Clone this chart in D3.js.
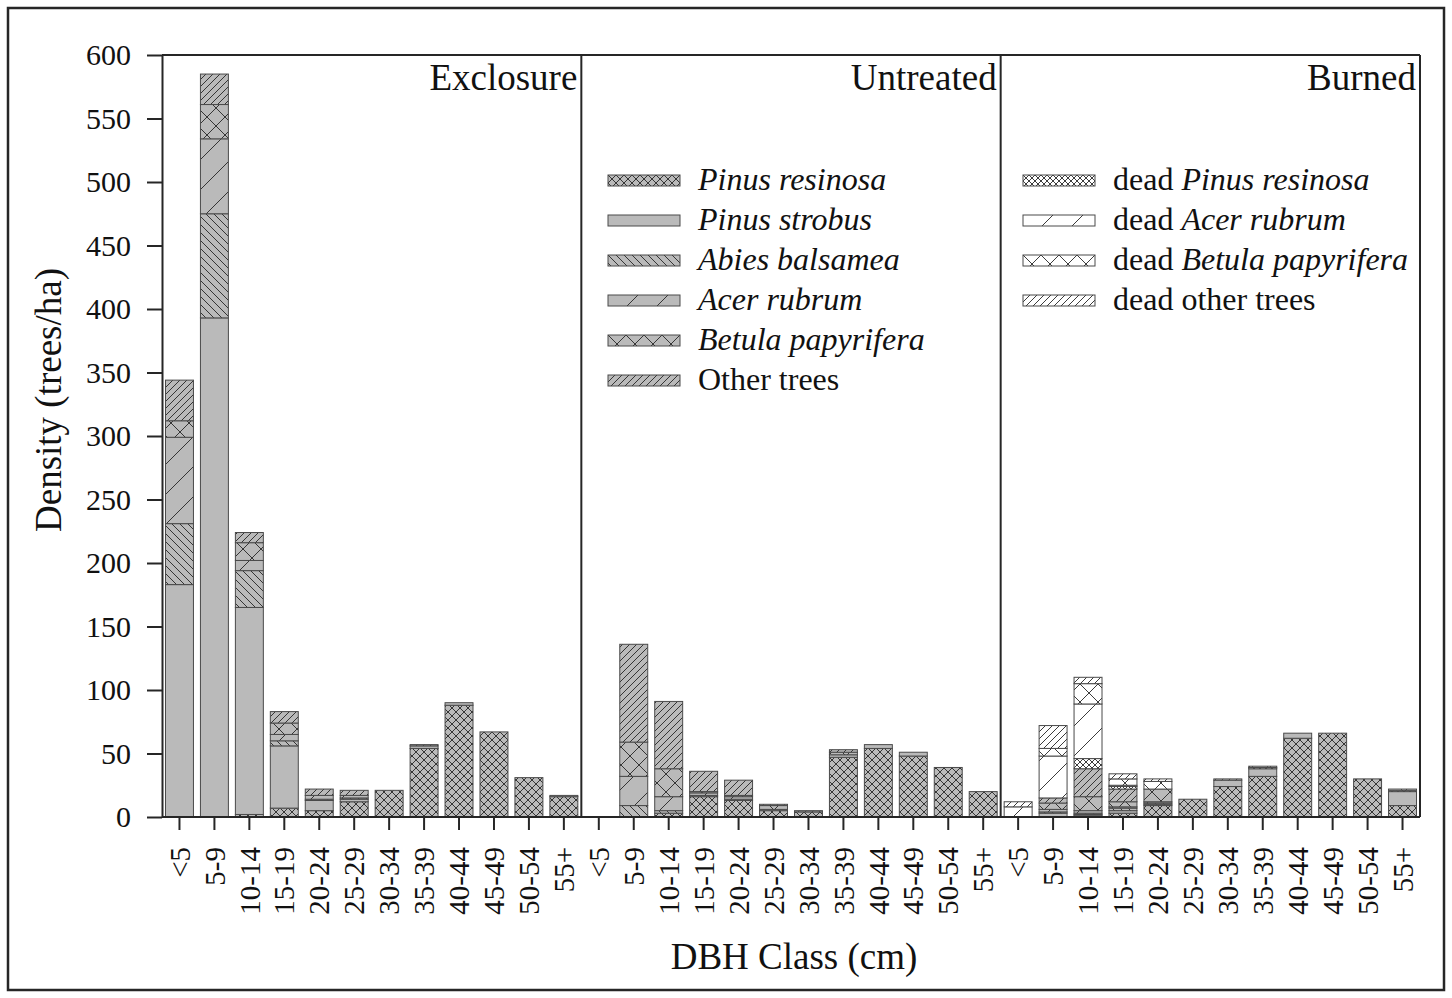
<!DOCTYPE html>
<html>
  <head>
    <meta charset="utf-8">
    <title>Tree density by DBH class</title>
    <script src="https://cdn.jsdelivr.net/npm/d3@7"></script>
    <style>
      body { margin: 0; background: #fff; }
      svg text { font-family: "Liberation Serif", "Times New Roman", serif; fill: #111; }
    </style>
  </head>

  <body>
    <svg id="chart" width="1452" height="998"></svg>

    <script>
      // categories
      classes = ["<5", "5-9", "10-14", "15-19", "20-24", "25-29", "30-34", "35-39", "40-44", "45-49", "50-54", "55+"];
      treatments = ["Exclosure", "Untreated", "Burned"];
      yTicks = [0, 50, 100, 150, 200, 250, 300, 350, 400, 450, 500, 550, 600];

      // stack order, bottom to top
      keys = ["res", "strobus", "abies", "acer", "betula", "other", "deadRes", "deadAcer", "deadBetula", "deadOther"];
      liveLabels = ["Pinus resinosa", "Pinus strobus", "Abies balsamea", "Acer rubrum", "Betula papyrifera", "Other trees"];
      deadLabels = ["Pinus resinosa", "Acer rubrum", "Betula papyrifera", "other trees"];

      // Exclosure (trees/ha)
      exclosureRes     = [0, 0, 2, 7, 5, 12, 21, 54, 88, 67, 31, 16];
      exclosureStrobus = [183, 393, 163, 49, 8, 2, 0, 2, 2, 0, 0, 1];
      exclosureAbies   = [48, 82, 29, 4, 1, 1, 0, 0, 0, 0, 0, 0];
      exclosureAcer    = [68, 59, 8, 5, 3, 2, 0, 0, 0, 0, 0, 0];
      exclosureBetula  = [13, 27, 14, 9, 0, 0, 0, 0, 0, 0, 0, 0];
      exclosureOther   = [32, 24, 8, 9, 5, 4, 0, 1, 0, 0, 0, 0];

      // Untreated
      untreatedRes     = [0, 0, 3, 16, 13, 5, 4, 47, 54, 48, 39, 20];
      untreatedStrobus = [0, 0, 0, 0, 0, 0, 0, 2, 3, 3, 0, 0];
      untreatedAbies   = [0, 9, 2, 1, 1, 0, 0, 0, 0, 0, 0, 0];
      untreatedAcer    = [0, 23, 11, 2, 2, 1, 0, 0, 0, 0, 0, 0];
      untreatedBetula  = [0, 27, 22, 1, 1, 3, 0, 2, 0, 0, 0, 0];
      untreatedOther   = [0, 77, 53, 16, 12, 1, 1, 2, 0, 0, 0, 0];

      // Burned, living
      burnedRes     = [0, 0, 1, 3, 9, 14, 24, 32, 62, 66, 30, 9];
      burnedStrobus = [0, 3, 1, 2, 1, 0, 5, 6, 4, 0, 0, 11];
      burnedAbies   = [0, 1, 1, 2, 1, 0, 0, 0, 0, 0, 0, 0];
      burnedAcer    = [0, 2, 2, 1, 1, 0, 0, 0, 0, 0, 0, 0];
      burnedBetula  = [0, 5, 11, 4, 10, 0, 0, 0, 0, 0, 0, 0];
      burnedOther   = [0, 4, 22, 10, 0, 0, 0, 0, 0, 0, 0, 0];
      // Burned, dead
      burnedDeadRes    = [0, 0, 8, 2, 0, 0, 0, 1, 0, 0, 0, 1];
      burnedDeadAcer   = [8, 33, 43, 1, 0, 0, 0, 0, 0, 0, 0, 0];
      burnedDeadBetula = [0, 6, 16, 5, 6, 0, 0, 1, 0, 0, 0, 1];
      burnedDeadOther  = [4, 18, 5, 4, 2, 0, 1, 0, 0, 0, 0, 0];

      zeros = classes.map(function() { return 0; });
      series = {
        Exclosure: [exclosureRes, exclosureStrobus, exclosureAbies, exclosureAcer, exclosureBetula, exclosureOther, zeros, zeros, zeros, zeros],
        Untreated: [untreatedRes, untreatedStrobus, untreatedAbies, untreatedAcer, untreatedBetula, untreatedOther, zeros, zeros, zeros, zeros],
        Burned: [burnedRes, burnedStrobus, burnedAbies, burnedAcer, burnedBetula, burnedOther, burnedDeadRes, burnedDeadAcer, burnedDeadBetula, burnedDeadOther]
      };

      // page elements
      chart = d3.select("#chart");
      grey = "#bababa";
      ink = "#262626";
      margin = { top: 55, right: 1420, bottom: 817, left: 162 };

      // patterns
      defs = chart.append("defs");
      function makePattern(id, size, bg, d) {
        p = defs.append("pattern")
          .attr("id", id)
          .attr("patternUnits", "userSpaceOnUse")
          .attr("width", size)
          .attr("height", size);
        p.append("rect")
          .attr("width", size)
          .attr("height", size)
          .attr("fill", bg);
        if (d) p.append("path")
          .attr("d", d)
          .attr("stroke", ink)
          .attr("stroke-width", 0.9)
          .attr("fill", "none");
      }
      function slash(s) { return "M0," + s + "L" + s + ",0M-2,2L2,-2M" + (s - 2) + "," + (s + 2) + "L" + (s + 2) + "," + (s - 2); }
      function back(s) { return "M0,0L" + s + "," + s + "M-2," + (s - 2) + "L2," + (s + 2) + "M" + (s - 2) + ",-2L" + (s + 2) + ",2"; }
      function cross(s) { return slash(s) + back(s); }

      patternDefs = [
        ["res", 8, grey, cross(8)],
        ["strobus", 8, grey, null],
        ["abies", 8, grey, back(8)],
        ["acer", 30, grey, slash(30)],
        ["betula", 18, grey, cross(18)],
        ["other", 7, grey, slash(7)],
        ["deadRes", 6, "#fff", cross(6)],
        ["deadAcer", 30, "#fff", slash(30)],
        ["deadBetula", 18, "#fff", cross(18)],
        ["deadOther", 7, "#fff", slash(7)]
      ];
      patternDefs.forEach(function(d) { makePattern("pat-" + d[0], d[1], d[2], d[3]); });

      // scales
      y = d3.scaleLinear()
        .domain([0, 600])
        .range([margin.bottom, margin.top]);
      panel = d3.scaleBand()
        .domain(treatments)
        .range([margin.left, margin.right])
        .padding(0);

      // bars and x axes, one panel at a time
      treatments.forEach(function(t) {
        x = d3.scaleBand()
          .domain(classes)
          .range([panel(t), panel(t) + panel.bandwidth()])
          .paddingInner(0.2)
          .paddingOuter(0.1);

        rows = classes.map(function(c, i) {
          row = { cls: c };
          keys.forEach(function(k, j) { row[k] = series[t][j][i]; });
          return row;
        });
        stacked = d3.stack().keys(keys)(rows);

        g = chart.append("g").attr("class", "panel");
        g.selectAll(".layer")
          .data(stacked)
          .join("g")
            .attr("class", "layer")
            .attr("fill", function(d) { return "url(#pat-" + d.key + ")"; })
          .selectAll("rect")
          .data(function(d) { return d.filter(function(v) { return v[1] - v[0] > 0; }); })
          .join("rect")
            .attr("x", function(d) { return x(d.data.cls); })
            .attr("width", x.bandwidth())
            .attr("y", function(d) { return y(d[1]); })
            .attr("height", function(d) { return y(d[0]) - y(d[1]); })
            .attr("stroke", "#4a4a4a")
            .attr("stroke-width", 1);

        xAxis = d3.axisBottom(x)
          .tickSizeOuter(0)
          .tickSize(13)
          .tickPadding(0);
        ax = chart.append("g")
          .attr("transform", "translate(0," + margin.bottom + ")")
          .call(xAxis);
        ax.select(".domain").remove();
        ax.selectAll(".tick line").attr("stroke", ink).attr("stroke-width", 2);
        ax.selectAll(".tick text")
          .attr("font-size", 29)
          .attr("font-family", "Liberation Serif")
          .attr("fill", "#111")
          .attr("text-anchor", "end")
          .attr("transform", "translate(0,30) rotate(-90)")
          .attr("x", 0)
          .attr("y", 0)
          .attr("dy", "0.35em");

        // panel title
        chart.append("text")
          .attr("x", panel(t) + panel.bandwidth() - 4)
          .attr("y", 90)
          .attr("text-anchor", "end")
          .attr("font-size", 37)
          .text(t);
      });

      // y axis
      yAxis = d3.axisLeft(y)
        .tickValues(yTicks)
        .tickSize(15)
        .tickSizeOuter(0)
        .tickPadding(16);
      yg = chart.append("g")
        .attr("transform", "translate(" + margin.left + ",0)")
        .call(yAxis);
      yg.select(".domain").attr("stroke", ink).attr("stroke-width", 2);
      yg.selectAll(".tick line").attr("stroke", ink).attr("stroke-width", 2);
      yg.selectAll(".tick text")
        .attr("font-size", 30)
        .attr("font-family", "Liberation Serif")
        .attr("fill", "#111");

      // plot frame, baseline and panel dividers
      frame = chart.append("g")
        .attr("stroke", ink)
        .attr("stroke-width", 2);
      frame.append("line")
        .attr("x1", margin.left).attr("x2", margin.right)
        .attr("y1", y(600)).attr("y2", y(600));
      frame.append("line")
        .attr("x1", margin.left).attr("x2", margin.right)
        .attr("y1", y(0)).attr("y2", y(0));
      frame.selectAll(".divider")
        .data(treatments.slice(1).concat(["end"]))
        .join("line")
          .attr("x1", function(d) { return d === "end" ? margin.right : panel(d); })
          .attr("x2", function(d) { return d === "end" ? margin.right : panel(d); })
          .attr("y1", y(600))
          .attr("y2", y(0));

      // outer border
      chart.append("rect")
        .attr("x", 8).attr("y", 8)
        .attr("width", 1436).attr("height", 982)
        .attr("fill", "none")
        .attr("stroke", ink)
        .attr("stroke-width", 2.5);

      // axis titles
      chart.append("text")
        .attr("transform", "translate(61,400) rotate(-90)")
        .attr("text-anchor", "middle")
        .attr("font-size", 37)
        .text("Density (trees/ha)");
      chart.append("text")
        .attr("x", 794)
        .attr("y", 969)
        .attr("text-anchor", "middle")
        .attr("font-size", 37)
        .text("DBH Class (cm)");

      // legends
      function legend(x0, ids, labels, prefix) {
        lg = chart.append("g").attr("transform", "translate(" + x0 + ",175)");
        item = lg.selectAll("g")
          .data(ids)
          .join("g")
            .attr("transform", function(d, i) { return "translate(0," + (i * 40) + ")"; });
        item.append("rect")
          .attr("width", 72)
          .attr("height", 11)
          .attr("fill", function(d) { return "url(#pat-" + d + ")"; })
          .attr("stroke", "#4a4a4a")
          .attr("stroke-width", 1);
        txt = item.append("text")
          .attr("x", 90)
          .attr("y", 15)
          .attr("font-size", 32);
        if (prefix) txt.append("tspan").text(prefix);
        txt.append("tspan")
          .attr("font-style", function(d, i) { return labels[i].indexOf("trees") >= 0 ? "normal" : "italic"; })
          .text(function(d, i) { return labels[i]; });
      }
      legend(608, keys.slice(0, 6), liveLabels, "");
      legend(1023, keys.slice(6), deadLabels, "dead ");
    </script>
  </body>
</html>
